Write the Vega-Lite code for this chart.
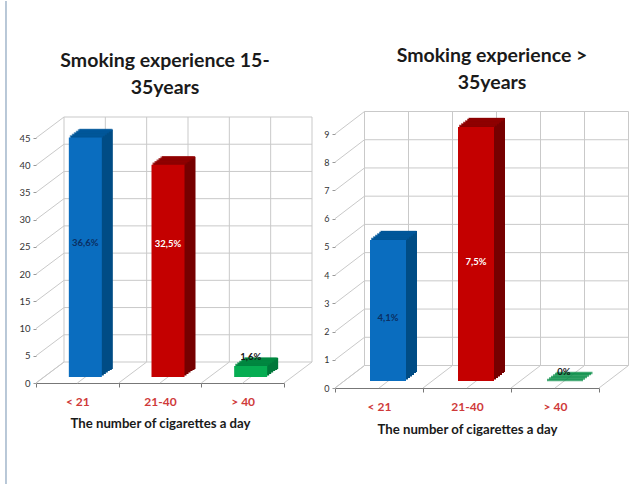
{"$schema":"https://vega.github.io/schema/vega-lite/v6.json","padding":0,"background":"white","bounds":"flush","spacing":0,"config":{"view":{"stroke":null},"axis":{"grid":false}},
"datasets":{
"a":[{"cat":"< 21","value":44,"label":"36,6%"},{"cat":"21-40","value":39,"label":"32,5%"},{"cat":"> 40","value":2,"label":"1,6%"}],
"b":[{"cat":"< 21","value":5,"label":"4,1%"},{"cat":"21-40","value":9,"label":"7,5%"},{"cat":"> 40","value":0,"label":"0%"}],
"t1":[{"tick":0},{"tick":5},{"tick":10},{"tick":15},{"tick":20},{"tick":25},{"tick":30},{"tick":35},{"tick":40},{"tick":45}],
"t2":[{"tick":0},{"tick":1},{"tick":2},{"tick":3},{"tick":4},{"tick":5},{"tick":6},{"tick":7},{"tick":8},{"tick":9}],
"g":[{"g":0},{"g":0.5},{"g":1},{"g":1.5},{"g":2},{"g":2.5},{"g":3}]},
"hconcat":[
{"width":320,"height":484,
"title":{"text":["Smoking experience 15-","35years"],"font":"Lato","fontSize":19.5,"fontWeight":"bold","color":"#1a1a1a","lineHeight":27,"anchor":"middle","dx":5,"dy":102,"baseline":"top"},
"resolve":{"scale":{"x":"independent"}},
"layer":[
{"layer":[
{"data":{"values":[{"frame":1}]},"mark":{"type":"rule","color":"#8aa3bd","strokeWidth":1.2},"encoding":{"x":{"datum":-0.363,"type":"quantitative","axis":null,"scale":{"domain":[0,3],"range":[36,284]}}}},
{"data":{"name":"t1"},"mark":{"type":"rule","color":"#c9c9c9","xOffset":28,"x2Offset":28,"yOffset":-21},"encoding":{"x":{"datum":0,"type":"quantitative","axis":null,"scale":{"domain":[0,3],"range":[36,284]}},"x2":{"datum":3},"y":{"field":"tick","type":"quantitative","axis":{"title":null,"values":[0,5,10,15,20,25,30,35,40,45],"offset":-36,"domain":false,"grid":false,"tickSize":3,"tickColor":"#999999","labelFont":"Lato","labelFontSize":9.5,"labelColor":"#333333","labelPadding":3},"scale":{"domain":[0,45],"range":[382,137]}}}},
{"data":{"name":"t1"},"mark":{"type":"rule","color":"#c9c9c9","x2Offset":28,"y2Offset":-21},"encoding":{"x":{"datum":0,"type":"quantitative","axis":null,"scale":{"domain":[0,3],"range":[36,284]}},"x2":{"datum":0},"y":{"field":"tick","type":"quantitative","scale":{"domain":[0,45],"range":[382,137]}},"y2":{"field":"tick"}}},
{"data":{"name":"g"},"mark":{"type":"rule","color":"#c9c9c9","xOffset":28,"yOffset":-21,"y2Offset":-21},"encoding":{"x":{"field":"g","type":"quantitative","axis":null,"scale":{"domain":[0,3],"range":[36,284]}},"y":{"datum":0,"type":"quantitative","scale":{"domain":[0,45],"range":[382,137]}},"y2":{"datum":45}}},
{"data":{"name":"g"},"mark":{"type":"rule","color":"#c9c9c9","x2Offset":28,"y2Offset":-21},"encoding":{"x":{"field":"g","type":"quantitative","axis":null,"scale":{"domain":[0,3],"range":[36,284]}},"x2":{"field":"g"},"y":{"datum":0,"type":"quantitative","scale":{"domain":[0,45],"range":[382,137]}},"y2":{"datum":0}}}
]},
{"data":{"name":"a"},
"encoding":{"x":{"field":"cat","type":"nominal","sort":null,"scale":{"domain":["< 21","21-40","> 40"],"range":[36,284],"paddingInner":0,"paddingOuter":0},"axis":{"title":"The number of cigarettes a day","titleFont":"Lato","titleFontSize":13.2,"titleFontWeight":"bold","titleColor":"#1a1a1a","titlePadding":10,"labelFont":"Lato","labelFontSize":12,"labelFontWeight":"bold","labelColor":"#cf3a3a","labelAngle":0,"labelPadding":9,"tickBand":"extent","tickSize":4,"tickColor":"#777777","domainColor":"#777777","offset":-102,"grid":false}},
"y":{"field":"value","type":"quantitative","scale":{"domain":[0,45],"range":[382,137]},"axis":{"title":null,"values":[0,5,10,15,20,25,30,35,40,45],"offset":-36,"domain":false,"grid":false,"tickSize":3,"tickColor":"#999999","labelFont":"Lato","labelFontSize":9.5,"labelColor":"#333333","labelPadding":3}}},
"resolve":{"scale":{"color":"independent"}},
"layer":[
{"encoding":{"color":{"field":"cat","type":"nominal","legend":null,"scale":{"domain":["< 21","21-40","> 40"],"range":["#004c85","#760000","#00773a"]}}},"layer":[
{"mark":{"type":"bar","size":33,"xOffset":10,"yOffset":-7.5,"y2Offset":-7.5}},
{"mark":{"type":"bar","size":33,"xOffset":12,"yOffset":-9,"y2Offset":-9}},
{"mark":{"type":"bar","size":33,"xOffset":14,"yOffset":-10.5,"y2Offset":-10.5}},
{"mark":{"type":"bar","size":33,"xOffset":16,"yOffset":-12,"y2Offset":-12}},
{"mark":{"type":"bar","size":33,"xOffset":18,"yOffset":-13,"y2Offset":-13}},
{"mark":{"type":"bar","size":33,"xOffset":19,"yOffset":-14,"y2Offset":-14}}
]},
{"encoding":{"color":{"field":"cat","type":"nominal","legend":null,"scale":{"domain":["< 21","21-40","> 40"],"range":["#00589c","#930000","#008a42"]}}},"layer":[
{"mark":{"type":"tick","orient":"horizontal","size":33,"thickness":2.5,"xOffset":9,"yOffset":-7}},
{"mark":{"type":"tick","orient":"horizontal","size":33,"thickness":2.5,"xOffset":11,"yOffset":-8.5}},
{"mark":{"type":"tick","orient":"horizontal","size":33,"thickness":2.5,"xOffset":13,"yOffset":-10}},
{"mark":{"type":"tick","orient":"horizontal","size":33,"thickness":2.5,"xOffset":15,"yOffset":-11.5}},
{"mark":{"type":"tick","orient":"horizontal","size":33,"thickness":2.5,"xOffset":17,"yOffset":-13}},
{"mark":{"type":"tick","orient":"horizontal","size":33,"thickness":2.5,"xOffset":18.5,"yOffset":-13.5}}
]},
{"mark":{"type":"bar","size":33,"xOffset":8,"yOffset":-6,"y2Offset":-6},"encoding":{"color":{"field":"cat","type":"nominal","legend":null,"scale":{"domain":["< 21","21-40","> 40"],"range":["#0a6dbf","#c40000","#06ad52"]}}}},
{"encoding":{"text":{"field":"label"},"color":{"field":"cat","type":"nominal","legend":null,"scale":{"domain":["< 21","21-40","> 40"],"range":["#0b2f63","#ffffff","#151515"]}}},"layer":[
{"transform":[{"filter":"datum.cat === '< 21'"}],"mark":{"type":"text","font":"Lato","fontSize":9.5,"fontWeight":"bold","xOffset":8},"encoding":{"y":{"datum":25.7}}},
{"transform":[{"filter":"datum.cat === '21-40'"}],"mark":{"type":"text","font":"Lato","fontSize":9.5,"fontWeight":"bold","xOffset":8},"encoding":{"y":{"datum":25.5}}},
{"transform":[{"filter":"datum.cat === '> 40'"}],"mark":{"type":"text","font":"Lato","fontSize":9.5,"fontWeight":"bold","xOffset":8},"encoding":{"y":{"datum":4.8}}}
]}
]}
]},
{"width":320,"height":484,
"title":{"text":["Smoking experience >","35years"],"font":"Lato","fontSize":19.5,"fontWeight":"bold","color":"#1a1a1a","lineHeight":27,"anchor":"middle","dx":12,"dy":96,"baseline":"top"},
"resolve":{"scale":{"x":"independent"}},
"layer":[
{"layer":[
{"data":{"name":"t2"},"mark":{"type":"rule","color":"#c9c9c9","xOffset":29.5,"x2Offset":29.5,"yOffset":-22.5},"encoding":{"x":{"datum":0,"type":"quantitative","axis":null,"scale":{"domain":[0,3],"range":[15,279]}},"x2":{"datum":3},"y":{"field":"tick","type":"quantitative","axis":{"title":null,"format":"d","values":[0,1,2,3,4,5,6,7,8,9],"offset":-15,"domain":false,"grid":false,"tickSize":3,"tickColor":"#999999","labelFont":"Lato","labelFontSize":9,"labelColor":"#333333","labelPadding":3},"scale":{"domain":[0,9],"range":[387,133]}}}},
{"data":{"name":"t2"},"mark":{"type":"rule","color":"#c9c9c9","x2Offset":29.5,"y2Offset":-22.5},"encoding":{"x":{"datum":0,"type":"quantitative","axis":null,"scale":{"domain":[0,3],"range":[15,279]}},"x2":{"datum":0},"y":{"field":"tick","type":"quantitative","scale":{"domain":[0,9],"range":[387,133]}},"y2":{"field":"tick"}}},
{"data":{"name":"g"},"mark":{"type":"rule","color":"#c9c9c9","xOffset":29.5,"yOffset":-22.5,"y2Offset":-22.5},"encoding":{"x":{"field":"g","type":"quantitative","axis":null,"scale":{"domain":[0,3],"range":[15,279]}},"y":{"datum":0,"type":"quantitative","scale":{"domain":[0,9],"range":[387,133]}},"y2":{"datum":9}}},
{"data":{"name":"g"},"mark":{"type":"rule","color":"#c9c9c9","x2Offset":29.5,"y2Offset":-22.5},"encoding":{"x":{"field":"g","type":"quantitative","axis":null,"scale":{"domain":[0,3],"range":[15,279]}},"x2":{"field":"g"},"y":{"datum":0,"type":"quantitative","scale":{"domain":[0,9],"range":[387,133]}},"y2":{"datum":0}}}
]},
{"data":{"name":"b"},
"encoding":{"x":{"field":"cat","type":"nominal","sort":null,"scale":{"domain":["< 21","21-40","> 40"],"range":[15,279],"paddingInner":0,"paddingOuter":0},"axis":{"title":"The number of cigarettes a day","titleFont":"Lato","titleFontSize":13.2,"titleFontWeight":"bold","titleColor":"#1a1a1a","titlePadding":11,"labelFont":"Lato","labelFontSize":12,"labelFontWeight":"bold","labelColor":"#cf3a3a","labelAngle":0,"labelPadding":9,"tickBand":"extent","tickSize":4,"tickColor":"#777777","domainColor":"#777777","offset":-97,"grid":false}},
"y":{"field":"value","type":"quantitative","scale":{"domain":[0,9],"range":[387,133]},"axis":{"title":null,"format":"d","values":[0,1,2,3,4,5,6,7,8,9],"offset":-15,"domain":false,"grid":false,"tickSize":3,"tickColor":"#999999","labelFont":"Lato","labelFontSize":9,"labelColor":"#333333","labelPadding":3}}},
"resolve":{"scale":{"color":"independent"}},
"layer":[
{"encoding":{"color":{"field":"cat","type":"nominal","legend":null,"scale":{"domain":["< 21","21-40","> 40"],"range":["#004c85","#760000","#00773a"]}}},"layer":[
{"mark":{"type":"bar","size":36,"xOffset":11,"yOffset":-8.5,"y2Offset":-8.5}},
{"mark":{"type":"bar","size":36,"xOffset":13,"yOffset":-10,"y2Offset":-10}},
{"mark":{"type":"bar","size":36,"xOffset":15,"yOffset":-11.5,"y2Offset":-11.5}},
{"mark":{"type":"bar","size":36,"xOffset":17,"yOffset":-13,"y2Offset":-13}},
{"mark":{"type":"bar","size":36,"xOffset":19,"yOffset":-15,"y2Offset":-15}},
{"mark":{"type":"bar","size":36,"xOffset":20,"yOffset":-16,"y2Offset":-16}}
]},
{"encoding":{"color":{"field":"cat","type":"nominal","legend":null,"scale":{"domain":["< 21","21-40","> 40"],"range":["#00589c","#930000","#008a42"]}}},"layer":[
{"mark":{"type":"tick","orient":"horizontal","size":36,"thickness":2.5,"xOffset":10,"yOffset":-8}},
{"mark":{"type":"tick","orient":"horizontal","size":36,"thickness":2.5,"xOffset":12,"yOffset":-9.5}},
{"mark":{"type":"tick","orient":"horizontal","size":36,"thickness":2.5,"xOffset":14,"yOffset":-11}},
{"mark":{"type":"tick","orient":"horizontal","size":36,"thickness":2.5,"xOffset":16,"yOffset":-12.5}},
{"mark":{"type":"tick","orient":"horizontal","size":36,"thickness":2.5,"xOffset":18,"yOffset":-14}},
{"mark":{"type":"tick","orient":"horizontal","size":36,"thickness":2.5,"xOffset":19.5,"yOffset":-15}}
]},
{"mark":{"type":"bar","size":36,"xOffset":9,"yOffset":-7,"y2Offset":-7},"encoding":{"color":{"field":"cat","type":"nominal","legend":null,"scale":{"domain":["< 21","21-40","> 40"],"range":["#0a6dbf","#c40000","#06ad52"]}}}},
{"encoding":{"text":{"field":"label"},"color":{"field":"cat","type":"nominal","legend":null,"scale":{"domain":["< 21","21-40","> 40"],"range":["#0b2f63","#ffffff","#151515"]}}},"layer":[
{"transform":[{"filter":"datum.cat === '< 21'"}],"mark":{"type":"text","font":"Lato","fontSize":9.5,"fontWeight":"bold","xOffset":9},"encoding":{"y":{"datum":2.48}}},
{"transform":[{"filter":"datum.cat === '21-40'"}],"mark":{"type":"text","font":"Lato","fontSize":9.5,"fontWeight":"bold","xOffset":9},"encoding":{"y":{"datum":4.46}}},
{"transform":[{"filter":"datum.cat === '> 40'"}],"mark":{"type":"text","font":"Lato","fontSize":9.5,"fontWeight":"bold","xOffset":9},"encoding":{"y":{"datum":0.57}}}
]}
]}
]}
]}
